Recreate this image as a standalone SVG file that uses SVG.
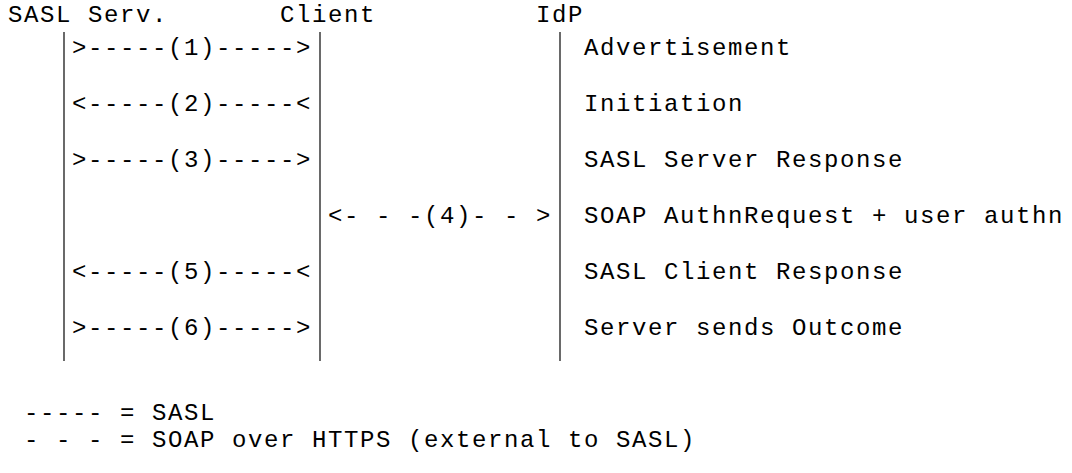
<svg xmlns="http://www.w3.org/2000/svg" width="1072" height="473" viewBox="0 0 1072 473">
  <style>
    /* monospace grid: 16px per character cell (column c starts at x = 8 + 16c), 28px per line */
    text { font-family: "Courier New", "Liberation Mono", monospace; font-size: 24px; letter-spacing: 1.6px; fill: #000; white-space: pre; }
    .life { stroke: #444; stroke-width: 1.6; fill: none; }
  </style>
  <rect width="1072" height="473" fill="#fff"/>

  <!-- participants: header label plus lifeline -->
  <g id="sasl-server">
    <text x="8" y="22">SASL Serv.</text>
    <line class="life" x1="64" y1="32" x2="64" y2="361"/>
  </g>
  <g id="client">
    <text x="280" y="22">Client</text>
    <line class="life" x1="320" y1="32" x2="320" y2="361"/>
  </g>
  <g id="idp">
    <text x="536" y="22">IdP</text>
    <line class="life" x1="560" y1="32" x2="560" y2="361"/>
  </g>

  <!-- message exchanges, one per step -->
  <g id="connectors">
    <text x="72" y="55">&gt;-----(1)-----&gt;</text>
    <text x="72" y="111">&lt;-----(2)-----&lt;</text>
    <text x="72" y="167">&gt;-----(3)-----&gt;</text>
    <text x="328" y="223">&lt;- - -(4)- - &gt;</text>
    <text x="72" y="279">&lt;-----(5)-----&lt;</text>
    <text x="72" y="335">&gt;-----(6)-----&gt;</text>
  </g>

  <!-- step descriptions -->
  <g id="steps">
    <text x="584" y="55">Advertisement</text>
    <text x="584" y="111">Initiation</text>
    <text x="584" y="167">SASL Server Response</text>
    <text x="584" y="223">SOAP AuthnRequest + user authn</text>
    <text x="584" y="279">SASL Client Response</text>
    <text x="584" y="335">Server sends Outcome</text>
  </g>

  <!-- legend -->
  <g id="legend">
    <text x="24" y="420">----- = SASL</text>
    <text x="24" y="447">- - - = SOAP over HTTPS (external to SASL)</text>
  </g>
</svg>
